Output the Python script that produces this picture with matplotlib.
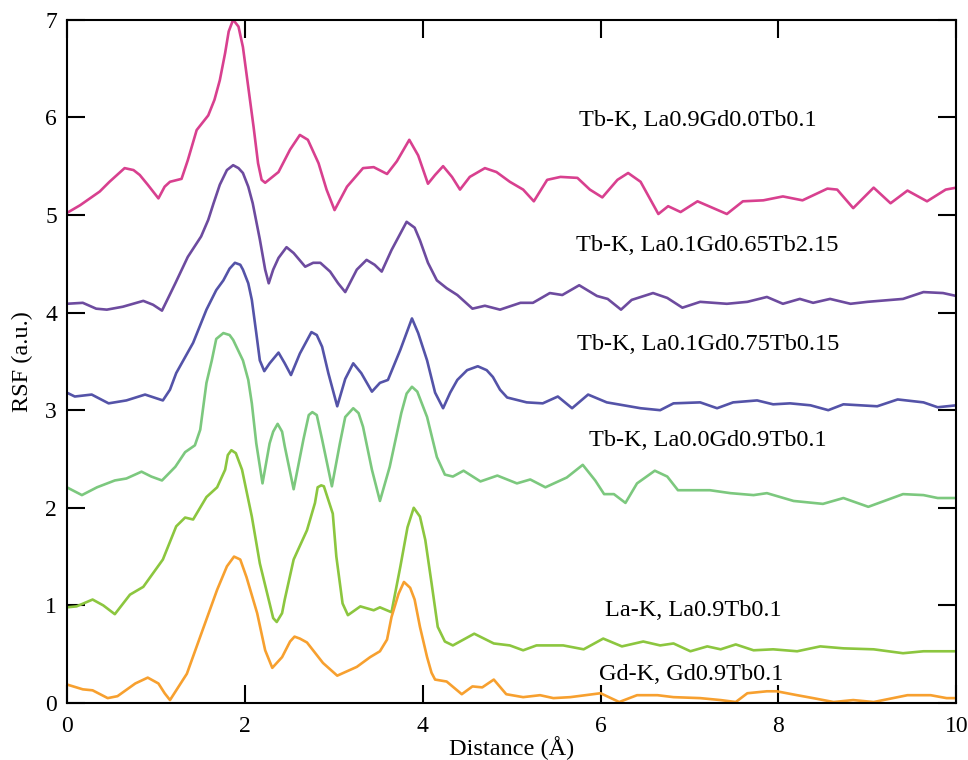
import numpy as np
import matplotlib.pyplot as plt

plt.rcParams['font.family'] = ['Liberation Serif', 'DejaVu Serif']

# Tb-K, La0.9Gd0.0Tb0.1
x_tb1 = [0, 0.15, 0.26, 0.37, 0.48, 0.65, 0.75, 0.82, 0.91, 1.03, 1.10, 1.16, 1.29, 1.36, 1.46,
         1.59, 1.66, 1.72, 1.78, 1.82, 1.87, 1.93, 1.98, 2.04, 2.10, 2.15, 2.19, 2.23, 2.38, 2.51,
         2.62, 2.71, 2.83, 2.92, 3.01, 3.15, 3.33, 3.45, 3.60, 3.71, 3.85, 3.95, 4.06, 4.14, 4.23,
         4.33, 4.42, 4.53, 4.70, 4.83, 4.98, 5.13, 5.25, 5.40, 5.55, 5.74, 5.88, 6.02, 6.19, 6.31,
         6.45, 6.65, 6.76, 6.90, 7.09, 7.42, 7.60, 7.83, 8.05, 8.27, 8.55, 8.66, 8.84, 9.07, 9.26,
         9.45, 9.67, 9.88, 10]
y_tb1 = [5.02, 5.10, 5.17, 5.24, 5.34, 5.48, 5.46, 5.41, 5.31, 5.17, 5.29, 5.34, 5.37, 5.56, 5.87,
         6.02, 6.18, 6.38, 6.66, 6.88, 7.00, 6.93, 6.72, 6.31, 5.90, 5.53, 5.36, 5.33, 5.44, 5.67,
         5.82, 5.77, 5.53, 5.26, 5.05, 5.29, 5.48, 5.49, 5.42, 5.55, 5.77, 5.61, 5.32, 5.41, 5.50,
         5.39, 5.26, 5.39, 5.48, 5.44, 5.34, 5.26, 5.14, 5.36, 5.39, 5.38, 5.26, 5.18, 5.36, 5.43,
         5.34, 5.01, 5.09, 5.03, 5.14, 5.01, 5.14, 5.15, 5.19, 5.15, 5.27, 5.26, 5.07, 5.28, 5.12,
         5.25, 5.14, 5.26, 5.28]

# Tb-K, La0.1Gd0.65Tb2.15
x_tb2 = [0, 0.18, 0.33, 0.45, 0.63, 0.86, 0.97, 1.07, 1.14, 1.22, 1.36, 1.51, 1.59, 1.65, 1.72,
         1.80, 1.87, 1.93, 1.98, 2.04, 2.09, 2.17, 2.23, 2.27, 2.32, 2.38, 2.47, 2.55, 2.68, 2.77,
         2.85, 2.96, 3.05, 3.13, 3.26, 3.37, 3.46, 3.54, 3.65, 3.82, 3.91, 3.97, 4.06, 4.16, 4.27,
         4.39, 4.56, 4.70, 4.87, 5.10, 5.24, 5.43, 5.57, 5.76, 5.96, 6.08, 6.23, 6.35, 6.59, 6.75,
         6.92, 7.12, 7.42, 7.65, 7.87, 8.05, 8.24, 8.39, 8.58, 8.81, 9.00, 9.40, 9.63, 9.85, 10]
y_tb2 = [4.09, 4.10, 4.04, 4.03, 4.06, 4.12, 4.08, 4.02, 4.15, 4.30, 4.57, 4.78, 4.95, 5.12, 5.31,
         5.46, 5.51, 5.48, 5.43, 5.29, 5.12, 4.75, 4.44, 4.30, 4.44, 4.56, 4.67, 4.61, 4.47, 4.51,
         4.51, 4.42, 4.30, 4.21, 4.44, 4.54, 4.49, 4.42, 4.64, 4.93, 4.87, 4.74, 4.51, 4.33, 4.25,
         4.18, 4.04, 4.07, 4.03, 4.10, 4.10, 4.20, 4.18, 4.28, 4.17, 4.14, 4.03, 4.13, 4.20, 4.15,
         4.05, 4.11, 4.09, 4.11, 4.16, 4.09, 4.14, 4.10, 4.14, 4.09, 4.11, 4.14, 4.21, 4.20, 4.17]

# Tb-K, La0.1Gd0.75Tb0.15
x_tb3 = [0, 0.09, 0.28, 0.47, 0.67, 0.88, 1.08, 1.16, 1.23, 1.42, 1.57, 1.68, 1.76, 1.83, 1.89,
         1.95, 1.98, 2.04, 2.08, 2.13, 2.17, 2.22, 2.28, 2.38, 2.45, 2.52, 2.62, 2.75, 2.81, 2.87,
         2.94, 3.04, 3.13, 3.22, 3.31, 3.43, 3.52, 3.61, 3.75, 3.88, 3.95, 4.05, 4.14, 4.23, 4.31,
         4.39, 4.50, 4.62, 4.72, 4.79, 4.87, 4.95, 5.17, 5.35, 5.52, 5.68, 5.86, 6.07, 6.45, 6.67,
         6.82, 7.12, 7.31, 7.49, 7.76, 7.94, 8.13, 8.36, 8.56, 8.73, 9.11, 9.34, 9.63, 9.79, 10]
y_tb3 = [3.18, 3.14, 3.16, 3.07, 3.10, 3.16, 3.10, 3.21, 3.38, 3.69, 4.03, 4.23, 4.33, 4.45, 4.51,
         4.49, 4.44, 4.30, 4.13, 3.79, 3.51, 3.40, 3.48, 3.59, 3.48, 3.36, 3.58, 3.80, 3.77, 3.65,
         3.38, 3.04, 3.32, 3.48, 3.38, 3.19, 3.28, 3.31, 3.62, 3.94, 3.79, 3.51, 3.18, 3.02, 3.18,
         3.31, 3.41, 3.45, 3.41, 3.34, 3.21, 3.13, 3.08, 3.07, 3.14, 3.02, 3.16, 3.08, 3.02, 3.00,
         3.07, 3.08, 3.02, 3.08, 3.10, 3.06, 3.07, 3.05, 3.00, 3.06, 3.04, 3.11, 3.08, 3.03, 3.05]

# Tb-K, La0.0Gd0.9Tb0.1
x_tb4 = [0, 0.17, 0.34, 0.54, 0.67, 0.84, 0.95, 1.07, 1.22, 1.33, 1.44, 1.50, 1.57, 1.63, 1.68,
         1.76, 1.83, 1.87, 1.98, 2.04, 2.08, 2.13, 2.20, 2.28, 2.32, 2.37, 2.42, 2.45, 2.55, 2.66,
         2.72, 2.76, 2.81, 2.87, 2.98, 3.07, 3.13, 3.22, 3.28, 3.33, 3.43, 3.52, 3.63, 3.76, 3.82,
         3.88, 3.94, 4.05, 4.16, 4.25, 4.34, 4.46, 4.65, 4.84, 5.06, 5.21, 5.38, 5.62, 5.80, 5.94,
         6.04, 6.15, 6.28, 6.41, 6.61, 6.75, 6.87, 7.23, 7.46, 7.72, 7.87, 8.17, 8.50, 8.73, 9.01,
         9.40, 9.63, 9.79, 10]
y_tb4 = [2.21, 2.13, 2.21, 2.28, 2.30, 2.37, 2.32, 2.28, 2.42, 2.57, 2.64, 2.80, 3.28, 3.51, 3.73,
         3.79, 3.77, 3.72, 3.51, 3.31, 3.07, 2.66, 2.25, 2.66, 2.78, 2.86, 2.78, 2.63, 2.19, 2.70,
         2.95, 2.98, 2.95, 2.70, 2.22, 2.66, 2.93, 3.02, 2.97, 2.83, 2.39, 2.07, 2.42, 2.97, 3.17,
         3.24, 3.19, 2.93, 2.52, 2.34, 2.32, 2.38, 2.27, 2.33, 2.25, 2.29, 2.21, 2.31, 2.44, 2.28,
         2.14, 2.14, 2.05, 2.25, 2.38, 2.32, 2.18, 2.18, 2.15, 2.13, 2.15, 2.07, 2.04, 2.10, 2.01,
         2.14, 2.13, 2.10, 2.10]

# La-K, La0.9Tb0.1
x_la = [0, 0.11, 0.29, 0.41, 0.54, 0.71, 0.86, 1.08, 1.23, 1.33, 1.42, 1.57, 1.69, 1.78, 1.81,
        1.85, 1.90, 1.97, 2.08, 2.17, 2.28, 2.32, 2.36, 2.42, 2.45, 2.55, 2.70, 2.79, 2.82, 2.86,
        2.89, 2.99, 3.03, 3.10, 3.16, 3.30, 3.45, 3.52, 3.65, 3.75, 3.83, 3.90, 3.97, 4.03, 4.10,
        4.17, 4.25, 4.34, 4.58, 4.80, 4.98, 5.13, 5.28, 5.58, 5.81, 6.03, 6.24, 6.48, 6.67, 6.82,
        7.01, 7.20, 7.35, 7.52, 7.72, 7.94, 8.21, 8.47, 8.73, 9.07, 9.40, 9.63, 10]
y_la = [0.98, 0.99, 1.06, 1.00, 0.91, 1.11, 1.19, 1.47, 1.81, 1.90, 1.88, 2.11, 2.21, 2.39, 2.54,
        2.59, 2.56, 2.39, 1.91, 1.43, 1.02, 0.87, 0.83, 0.92, 1.06, 1.47, 1.77, 2.05, 2.21, 2.23,
        2.22, 1.94, 1.50, 1.02, 0.90, 0.99, 0.95, 0.98, 0.93, 1.40, 1.80, 2.00, 1.91, 1.67, 1.23,
        0.78, 0.63, 0.59, 0.71, 0.61, 0.59, 0.54, 0.59, 0.59, 0.55, 0.66, 0.58, 0.63, 0.59, 0.61,
        0.53, 0.58, 0.55, 0.60, 0.54, 0.55, 0.53, 0.58, 0.56, 0.55, 0.51, 0.53, 0.53]

# Gd-K, Gd0.9Tb0.1
x_gd = [0, 0.18, 0.29, 0.46, 0.57, 0.77, 0.91, 1.03, 1.10, 1.16, 1.35, 1.50, 1.69, 1.80, 1.88,
        1.95, 2.02, 2.14, 2.23, 2.31, 2.42, 2.51, 2.56, 2.62, 2.70, 2.88, 3.04, 3.26, 3.41, 3.52,
        3.60, 3.65, 3.73, 3.79, 3.86, 3.91, 3.97, 4.05, 4.10, 4.14, 4.27, 4.44, 4.56, 4.67, 4.80,
        4.94, 5.13, 5.32, 5.47, 5.66, 6.00, 6.21, 6.41, 6.64, 6.82, 7.12, 7.35, 7.52, 7.65, 7.87,
        7.98, 8.21, 8.39, 8.62, 8.84, 9.07, 9.45, 9.71, 9.89, 10]
y_gd = [0.19, 0.14, 0.13, 0.05, 0.07, 0.20, 0.26, 0.20, 0.10, 0.03, 0.30, 0.68, 1.16, 1.40, 1.50,
        1.47, 1.29, 0.92, 0.54, 0.36, 0.47, 0.63, 0.68, 0.66, 0.62, 0.41, 0.28, 0.37, 0.47, 0.53,
        0.65, 0.88, 1.12, 1.24, 1.18, 1.06, 0.78, 0.47, 0.31, 0.24, 0.22, 0.09, 0.17, 0.16, 0.24,
        0.09, 0.06, 0.08, 0.05, 0.06, 0.10, 0.01, 0.08, 0.08, 0.06, 0.05, 0.03, 0.01, 0.10, 0.12,
        0.12, 0.08, 0.05, 0.01, 0.03, 0.01, 0.08, 0.08, 0.05, 0.05]

series = [
    (x_tb1, y_tb1, '#d8408f', 'Tb-K, La0.9Gd0.0Tb0.1', 7.09, 5.97),
    (x_tb2, y_tb2, '#6d4b9f', 'Tb-K, La0.1Gd0.65Tb2.15', 7.20, 4.69),
    (x_tb3, y_tb3, '#5453a8', 'Tb-K, La0.1Gd0.75Tb0.15', 7.21, 3.67),
    (x_tb4, y_tb4, '#7cc87e', 'Tb-K, La0.0Gd0.9Tb0.1', 7.21, 2.69),
    (x_la, y_la, '#8cc63f', 'La-K, La0.9Tb0.1', 7.04, 0.95),
    (x_gd, y_gd, '#f7a02f', 'Gd-K, Gd0.9Tb0.1', 7.02, 0.29),
]

fig = plt.figure(figsize=(9.68, 7.60), dpi=100)
ax = fig.add_axes([0.069, 0.075, 0.919, 0.899])

for xs, ys, c, lab, tx, ty in series:
    ax.plot(xs, ys, color=c, lw=1.9, solid_joinstyle='round', solid_capstyle='round')
    ax.text(tx, ty, lab, ha='center', va='center', fontsize=17.5)

ax.set_xlim(0, 10)
ax.set_ylim(0, 7)
ax.set_xticks(np.arange(0, 11, 2))
ax.set_yticks(np.arange(0, 8, 1))
ax.tick_params(direction='in', length=13, width=1.5, top=True, right=True, labelsize=17)
ax.tick_params(axis='x', pad=9)
ax.tick_params(axis='y', pad=7)
for s in ax.spines.values():
    s.set_linewidth(1.5)
ax.set_xlabel('Distance (Å)', fontsize=17.5, labelpad=0)
ax.set_ylabel('RSF (a.u.)', fontsize=17.5, labelpad=9)

fig.savefig('out.png', dpi=100)
